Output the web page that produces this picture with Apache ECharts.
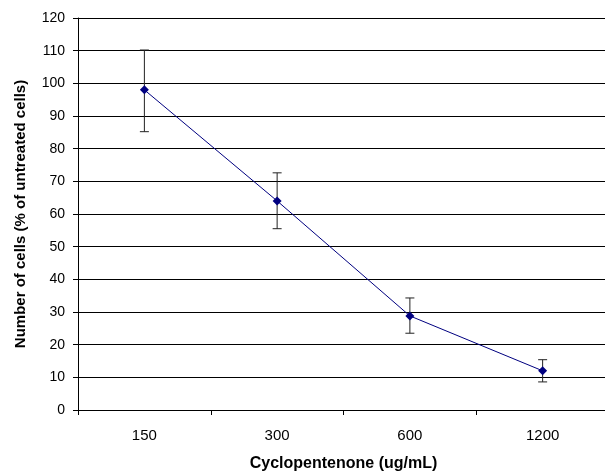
<!DOCTYPE html>
<html>
<head>
<meta charset="utf-8">
<script src="https://cdn.jsdelivr.net/npm/echarts@6/dist/echarts.min.js"></script>
<style>html,body{margin:0;padding:0;background:#fff;}#c{width:605px;height:473px;}</style>
</head>
<body>
<div id="c"></div>
<script>
const categories = ['150', '300', '600', '1200'];
const values = [98, 64, 28.8, 12];
const errLow = [85.2, 55.5, 23.5, 8.6];
const errHigh = [110.2, 72.6, 34.3, 15.4];
const yTicks = [0, 10, 20, 30, 40, 50, 60, 70, 80, 90, 100, 110, 120];

const chart = echarts.init(document.getElementById('c'));
const errData = categories.map((c, i) => [i, errLow[i], errHigh[i]]);
chart.setOption({
  animation: false,
  backgroundColor: '#fff',
  grid: { left: 78, top: 18, right: -4, bottom: 63, containLabel: false, outerBoundsMode: 'none' },
  xAxis: {
    type: 'category',
    data: categories,
    boundaryGap: true,
    name: 'Cyclopentenone (ug/mL)',
    nameLocation: 'middle',
    nameGap: 46,
    nameTextStyle: { fontFamily: 'Liberation Sans, Arial', fontSize: 16, fontWeight: 'bold', color: '#000', verticalAlign: 'top' },
    axisLine: { lineStyle: { color: '#000', width: 1 } },
    axisTick: { show: true, length: 5, inside: false, alignWithLabel: false, lineStyle: { color: '#000' } },
    axisLabel: { margin: 18, fontFamily: 'Liberation Sans, Arial', fontSize: 15, color: '#000' },
    splitLine: { show: false }
  },
  yAxis: {
    type: 'value',
    min: yTicks[0],
    max: yTicks[yTicks.length - 1],
    interval: 10,
    name: 'Number of cells (% of untreated cells)',
    nameLocation: 'middle',
    nameGap: 50,
    nameRotate: 90,
    nameTextStyle: { fontFamily: 'Liberation Sans, Arial', fontSize: 15, fontWeight: 'bold', color: '#000' },
    axisLine: { show: true, lineStyle: { color: '#000', width: 1 } },
    axisTick: { show: true, length: 5, lineStyle: { color: '#000' } },
    axisLabel: { margin: 13, fontFamily: 'Liberation Sans, Arial', fontSize: 14, color: '#000' },
    splitLine: { show: true, lineStyle: { color: '#000', width: 1 } }
  },
  series: [
    {
      type: 'custom',
      data: errData,
      z: 3,
      renderItem: function (params, api) {
        const x = api.value(0);
        const lo = api.coord([x, api.value(1)]);
        const hi = api.coord([x, api.value(2)]);
        const w = 4.5;
        const st = { stroke: '#222', lineWidth: 1 };
        return {
          type: 'group',
          children: [
            { type: 'line', shape: { x1: hi[0], y1: hi[1], x2: lo[0], y2: lo[1] }, style: st },
            { type: 'line', shape: { x1: hi[0] - w, y1: hi[1], x2: hi[0] + w, y2: hi[1] }, style: st },
            { type: 'line', shape: { x1: lo[0] - w, y1: lo[1], x2: lo[0] + w, y2: lo[1] }, style: st }
          ]
        };
      }
    },
    {
      type: 'line',
      data: values,
      z: 4,
      symbol: 'diamond',
      symbolSize: 9,
      itemStyle: { color: '#000080' },
      lineStyle: { color: '#000080', width: 1 }
    }
  ]
});
</script>
</body>
</html>
